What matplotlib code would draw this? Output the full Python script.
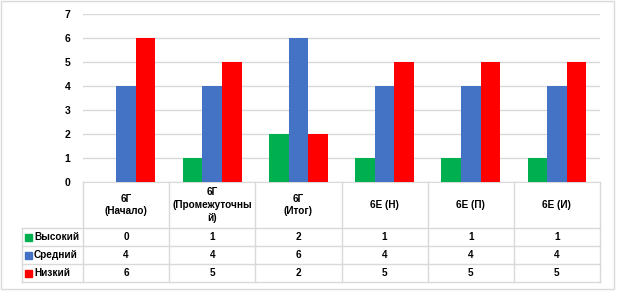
import numpy as np
import matplotlib.pyplot as plt
from matplotlib.patches import Rectangle

plt.rcParams['font.family'] = ['Liberation Sans', 'DejaVu Sans']

categories = ['6Г\n(Начало)', '6Г\n(Промежуточны\nй)', '6Г\n(Итог)', '6Е (Н)', '6Е (П)', '6Е (И)']
series_names = ['Высокий', 'Средний', 'Низкий']
vysokiy = [0, 1, 2, 1, 1, 1]
sredniy = [4, 4, 6, 4, 4, 4]
nizkiy = [6, 5, 2, 5, 5, 5]
colors = ['#00b050', '#4472c4', '#ff0000']
grid_c = '#d9d9d9'

W, H = 618, 291
fig = plt.figure(figsize=(W / 100, H / 100), dpi=100)

# pixel -> figure fraction helpers
def fx(px):
    return px / W

def fy(py):
    return 1 - py / H

x0, x1 = 83, 600
y_top, y_zero = 14, 182
ax = fig.add_axes([fx(x0), fy(y_zero), fx(x1) - fx(x0), fy(y_top) - fy(y_zero)])

series = [vysokiy, sredniy, nizkiy]
n = len(categories)
x = np.arange(n)
bw = 0.227
for i, (vals, c) in enumerate(zip(series, colors)):
    ax.bar(x + (i - 1) * bw, vals, bw, color=c, zorder=3)

ax.set_xlim(-0.5, n - 0.5)
ax.set_ylim(0, 7)
ax.set_yticks(range(8))
ax.set_yticklabels([str(v) for v in range(8)], fontsize=7.5, fontweight='bold')
ax.tick_params(axis='y', length=0, pad=9)
ax.set_xticks([])
ax.grid(axis='y', color=grid_c, linewidth=1, zorder=0)
for s in ['top', 'right', 'left']:
    ax.spines[s].set_visible(False)
ax.spines['bottom'].set_color(grid_c)

# data table below the chart
leg_x = 22
rows_y = [182, 228, 246, 264, 282]
col_w = (x1 - x0) / n
lw = 1
line_kw = dict(color=grid_c, linewidth=lw, transform=fig.transFigure)

for yy in rows_y[1:]:
    fig.add_artist(plt.Line2D([fx(leg_x), fx(x1)], [fy(yy), fy(yy)], **line_kw))
fig.add_artist(plt.Line2D([fx(leg_x), fx(leg_x)], [fy(rows_y[1]), fy(rows_y[-1])], **line_kw))
for j in range(n + 1):
    xx = x0 + j * col_w
    fig.add_artist(plt.Line2D([fx(xx), fx(xx)], [fy(rows_y[0]), fy(rows_y[-1])], **line_kw))

txt_kw = dict(fontsize=7.2, fontweight='bold', ha='center', va='center', transform=fig.transFigure)
for j, cat in enumerate(categories):
    cx = x0 + (j + 0.5) * col_w
    fig.text(fx(cx), fy((rows_y[0] + rows_y[1]) / 2), cat, linespacing=1.35, **txt_kw)
    for r, vals in enumerate(series):
        cy = (rows_y[r + 1] + rows_y[r + 2]) / 2
        fig.text(fx(cx), fy(cy), str(vals[j]), **txt_kw)

for r, (name, c) in enumerate(zip(series_names, colors)):
    cy = (rows_y[r + 1] + rows_y[r + 2]) / 2
    fig.add_artist(Rectangle((fx(25), fy(cy + 3.5)), fx(7), fy(0) - fy(7),
                             color=c, transform=fig.transFigure))
    fig.text(fx(34), fy(cy), name, fontsize=7.2, fontweight='bold', ha='left', va='center',
             transform=fig.transFigure)

# outer border
fig.add_artist(Rectangle((fx(1), fy(289)), fx(614) - fx(1), fy(1) - fy(289),
                         fill=False, edgecolor=grid_c, linewidth=1, transform=fig.transFigure))

fig.savefig('out.png', dpi=100)
